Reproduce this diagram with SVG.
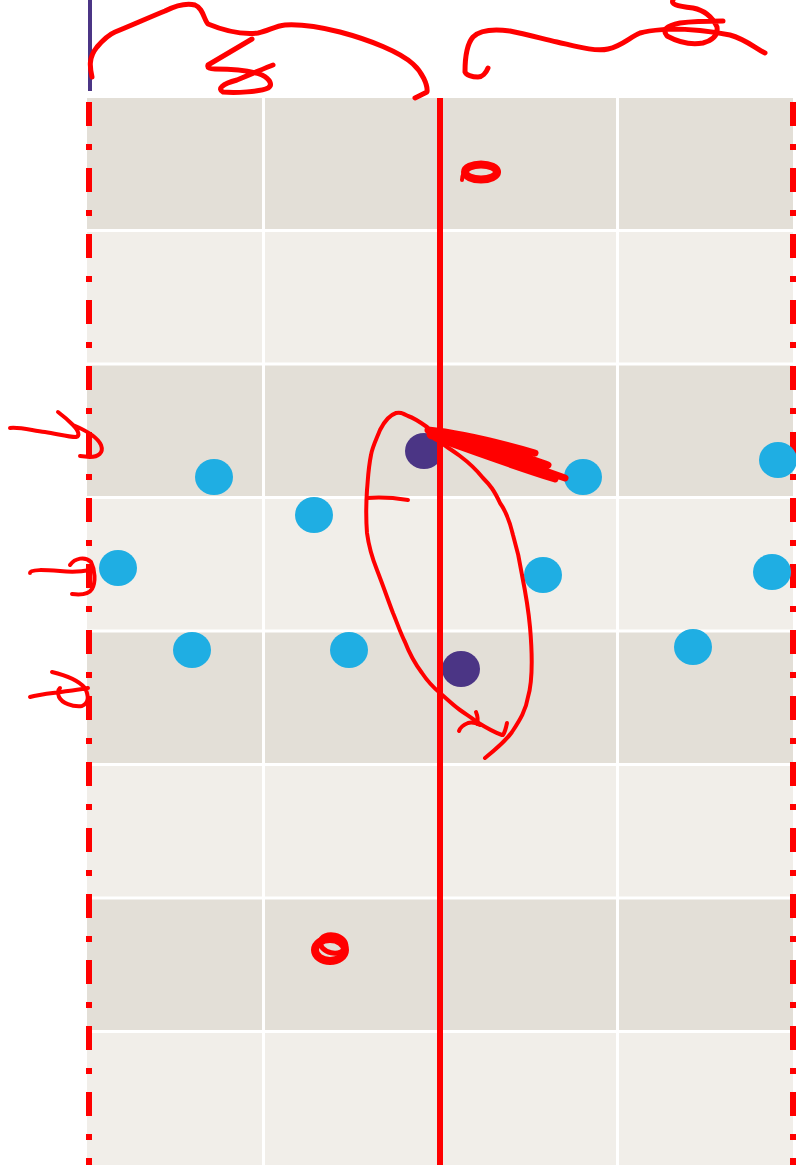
<svg xmlns="http://www.w3.org/2000/svg" width="796" height="1165" viewBox="0 0 796 1165">
<defs>
<style>
.dk{fill:#E3DFD7}
.lt{fill:#F1EEE9}
.sep{stroke:#FFFFFF;stroke-width:3}
.dash{stroke:#FF0000;stroke-width:6;stroke-dasharray:24 18 6 18;fill:none}
.blue{fill:#1FAEE3}
.purp{fill:#4B3585}
.ink{fill:none;stroke:#FF0000;stroke-width:4;stroke-linecap:round;stroke-linejoin:round}
.ink5{fill:none;stroke:#FF0000;stroke-width:5;stroke-linecap:round;stroke-linejoin:round}
.thick{fill:none;stroke:#FF0000;stroke-width:7;stroke-linecap:round;stroke-linejoin:round}
</style>
</defs>
<rect width="796" height="1165" fill="#FFFFFF"/>
<g id="grid">
<rect class="dk" x="87" y="98" width="706" height="133"/>
<rect class="lt" x="87" y="231" width="706" height="133"/>
<rect class="dk" x="87" y="364" width="706" height="134"/>
<rect class="lt" x="87" y="498" width="706" height="133"/>
<rect class="dk" x="87" y="631" width="706" height="134"/>
<rect class="lt" x="87" y="765" width="706" height="133"/>
<rect class="dk" x="87" y="898" width="706" height="134"/>
<rect class="lt" x="87" y="1032" width="706" height="133"/>
<g class="sep">
<line x1="87" y1="230.5" x2="793" y2="230.5"/>
<line x1="87" y1="364" x2="793" y2="364"/>
<line x1="87" y1="497.5" x2="793" y2="497.5"/>
<line x1="87" y1="631" x2="793" y2="631"/>
<line x1="87" y1="764.5" x2="793" y2="764.5"/>
<line x1="87" y1="898" x2="793" y2="898"/>
<line x1="87" y1="1031.5" x2="793" y2="1031.5"/>
<line x1="263.5" y1="98" x2="263.5" y2="1165"/>
<line x1="440" y1="98" x2="440" y2="1165"/>
<line x1="617.5" y1="98" x2="617.5" y2="1165"/>
</g>
</g>
<g id="boundaries">
<line x1="90" y1="0" x2="90" y2="91" stroke="#4B3585" stroke-width="4"/>
<line class="dash" x1="89" y1="102" x2="89" y2="1165"/>
<line class="dash" x1="793" y1="102" x2="793" y2="1165"/>
</g>
<g id="points">
<ellipse class="blue" cx="214" cy="477" rx="19" ry="18"/>
<ellipse class="blue" cx="314" cy="515" rx="19" ry="18"/>
<ellipse class="blue" cx="118" cy="568" rx="19" ry="18"/>
<ellipse class="blue" cx="192" cy="650" rx="19" ry="18"/>
<ellipse class="blue" cx="349" cy="650" rx="19" ry="18"/>
<ellipse class="blue" cx="543" cy="575" rx="19" ry="18"/>
<ellipse class="blue" cx="583" cy="477" rx="19" ry="18"/>
<ellipse class="blue" cx="778" cy="460" rx="19" ry="18"/>
<ellipse class="blue" cx="772" cy="572" rx="19" ry="18"/>
<ellipse class="blue" cx="693" cy="647" rx="19" ry="18"/>
<ellipse class="purp" cx="424" cy="451" rx="19" ry="18"/>
<ellipse class="purp" cx="461" cy="669" rx="19" ry="18"/>
</g>
<g id="centerline">
<line x1="440" y1="98" x2="440" y2="1165" stroke="#FF0000" stroke-width="6"/>
</g>
<g id="annotations">
<path class="ink5" d="M92 77 C90 68 88 58 97 47 C103 40 108 35 115 32 C130 26 150 17 165 11 C175 6 187 3 195 5 C203 8 204 20 208 24 C220 29 240 35 258 33 C268 31 275 26 285 25 C300 24 320 27 340 32 C370 40 400 52 413 64 C422 72 428 85 427 92 L415 98"/>
<path class="ink5" d="M252 39 L208 65 C207 68 210 69 215 69 C235 69 252 71 262 75 C270 79 273 85 268 88 C260 92 235 93 223 92 C217 89 222 84 237 80 C252 74 265 68 273 65"/>
<path class="ink5" d="M488 68 C486 73 482 77 478 77 C472 77 466 75 465 72 C465 60 466 45 473 37 C480 30 495 29 510 31 C525 34 540 38 557 42 C575 46 595 52 608 49 C622 46 630 37 640 33 C650 30 660 30 670 29 C690 29 710 31 730 35 C745 39 755 48 765 53"/>
<path class="ink5" d="M673 0 C671 4 675 6 693 8 C703 10 712 16 717 27 C718 34 714 40 703 43 C692 45 680 43 667 36 C662 30 666 26 680 23 C695 21 710 21 723 21"/>
<path class="ink" d="M10 428 C20 427 30 430 45 432 C58 434 68 437 76 437 C80 436 79 431 73 425 C67 419 62 415 58 412 M73 425 C85 430 97 436 101 445 C104 453 98 457 90 457 L80 456"/>
<path class="ink" d="M30 573 C30 569 45 570 60 571 C70 572 80 572 90 570 M70 565 C75 558 85 556 91 562 C95 570 96 582 92 589 C89 594 80 595 72 594"/>
<path class="ink" d="M30 697 C40 694 55 693 68 691 C76 690 82 689 88 688 M52 672 C65 675 78 680 85 688 C89 696 89 703 82 706 C72 707 62 703 59 697 C57 692 58 690 60 688"/>
<path class="ink" d="M485 758 C495 750 505 742 512 732 C520 720 526 710 528 697 C533 680 532 650 530 627 C528 605 525 590 522 575 C519 555 516 545 513 535 C509 518 505 510 500 503 C494 490 490 485 483 478 C475 468 468 462 460 456 C452 450 445 446 437 440 C432 434 430 430 427 427 C420 422 414 418 408 416 C402 413 400 412 396 413 C390 415 385 420 380 430 C376 440 372 448 371 455 C368 470 368 480 367 490 C366 505 366 520 367 533 C369 548 373 560 377 570 C384 588 388 600 393 613 C398 625 400 632 405 642 C410 655 416 665 422 673 C428 682 434 688 440 693 C447 699 453 705 460 710 C467 715 472 718 477 722 C485 727 493 732 502 735"/>
<path class="ink" d="M368 498 C380 497 395 498 408 500"/>
<path class="ink" d="M459 731 C460 728 463 725 468 723 C472 722 476 723 480 725 M476 712 C478 717 478 721 477 724 M507 723 C506 728 505 732 503 735"/>
<path class="thick" d="M428 430 C460 433 500 443 535 453 M432 434 C470 445 520 462 565 478 M436 438 C470 450 510 465 555 479 M440 434 C480 440 520 455 548 465"/>
<path fill="none" stroke="#FF0000" stroke-width="11" stroke-linecap="round" d="M432 434 L500 450"/>
<ellipse cx="481" cy="172" rx="16" ry="7.5" fill="none" stroke="#FF0000" stroke-width="8"/>
<path fill="none" stroke="#FF0000" stroke-width="4" stroke-linecap="round" d="M462 180 C462 172 468 166 480 165 C490 164 498 168 499 172"/>
<ellipse cx="330" cy="950" rx="15" ry="11" fill="none" stroke="#FF0000" stroke-width="8"/>
<ellipse cx="333" cy="944" rx="13" ry="9" fill="none" stroke="#FF0000" stroke-width="5" transform="rotate(12 333 944)"/>
</g>
</svg>
